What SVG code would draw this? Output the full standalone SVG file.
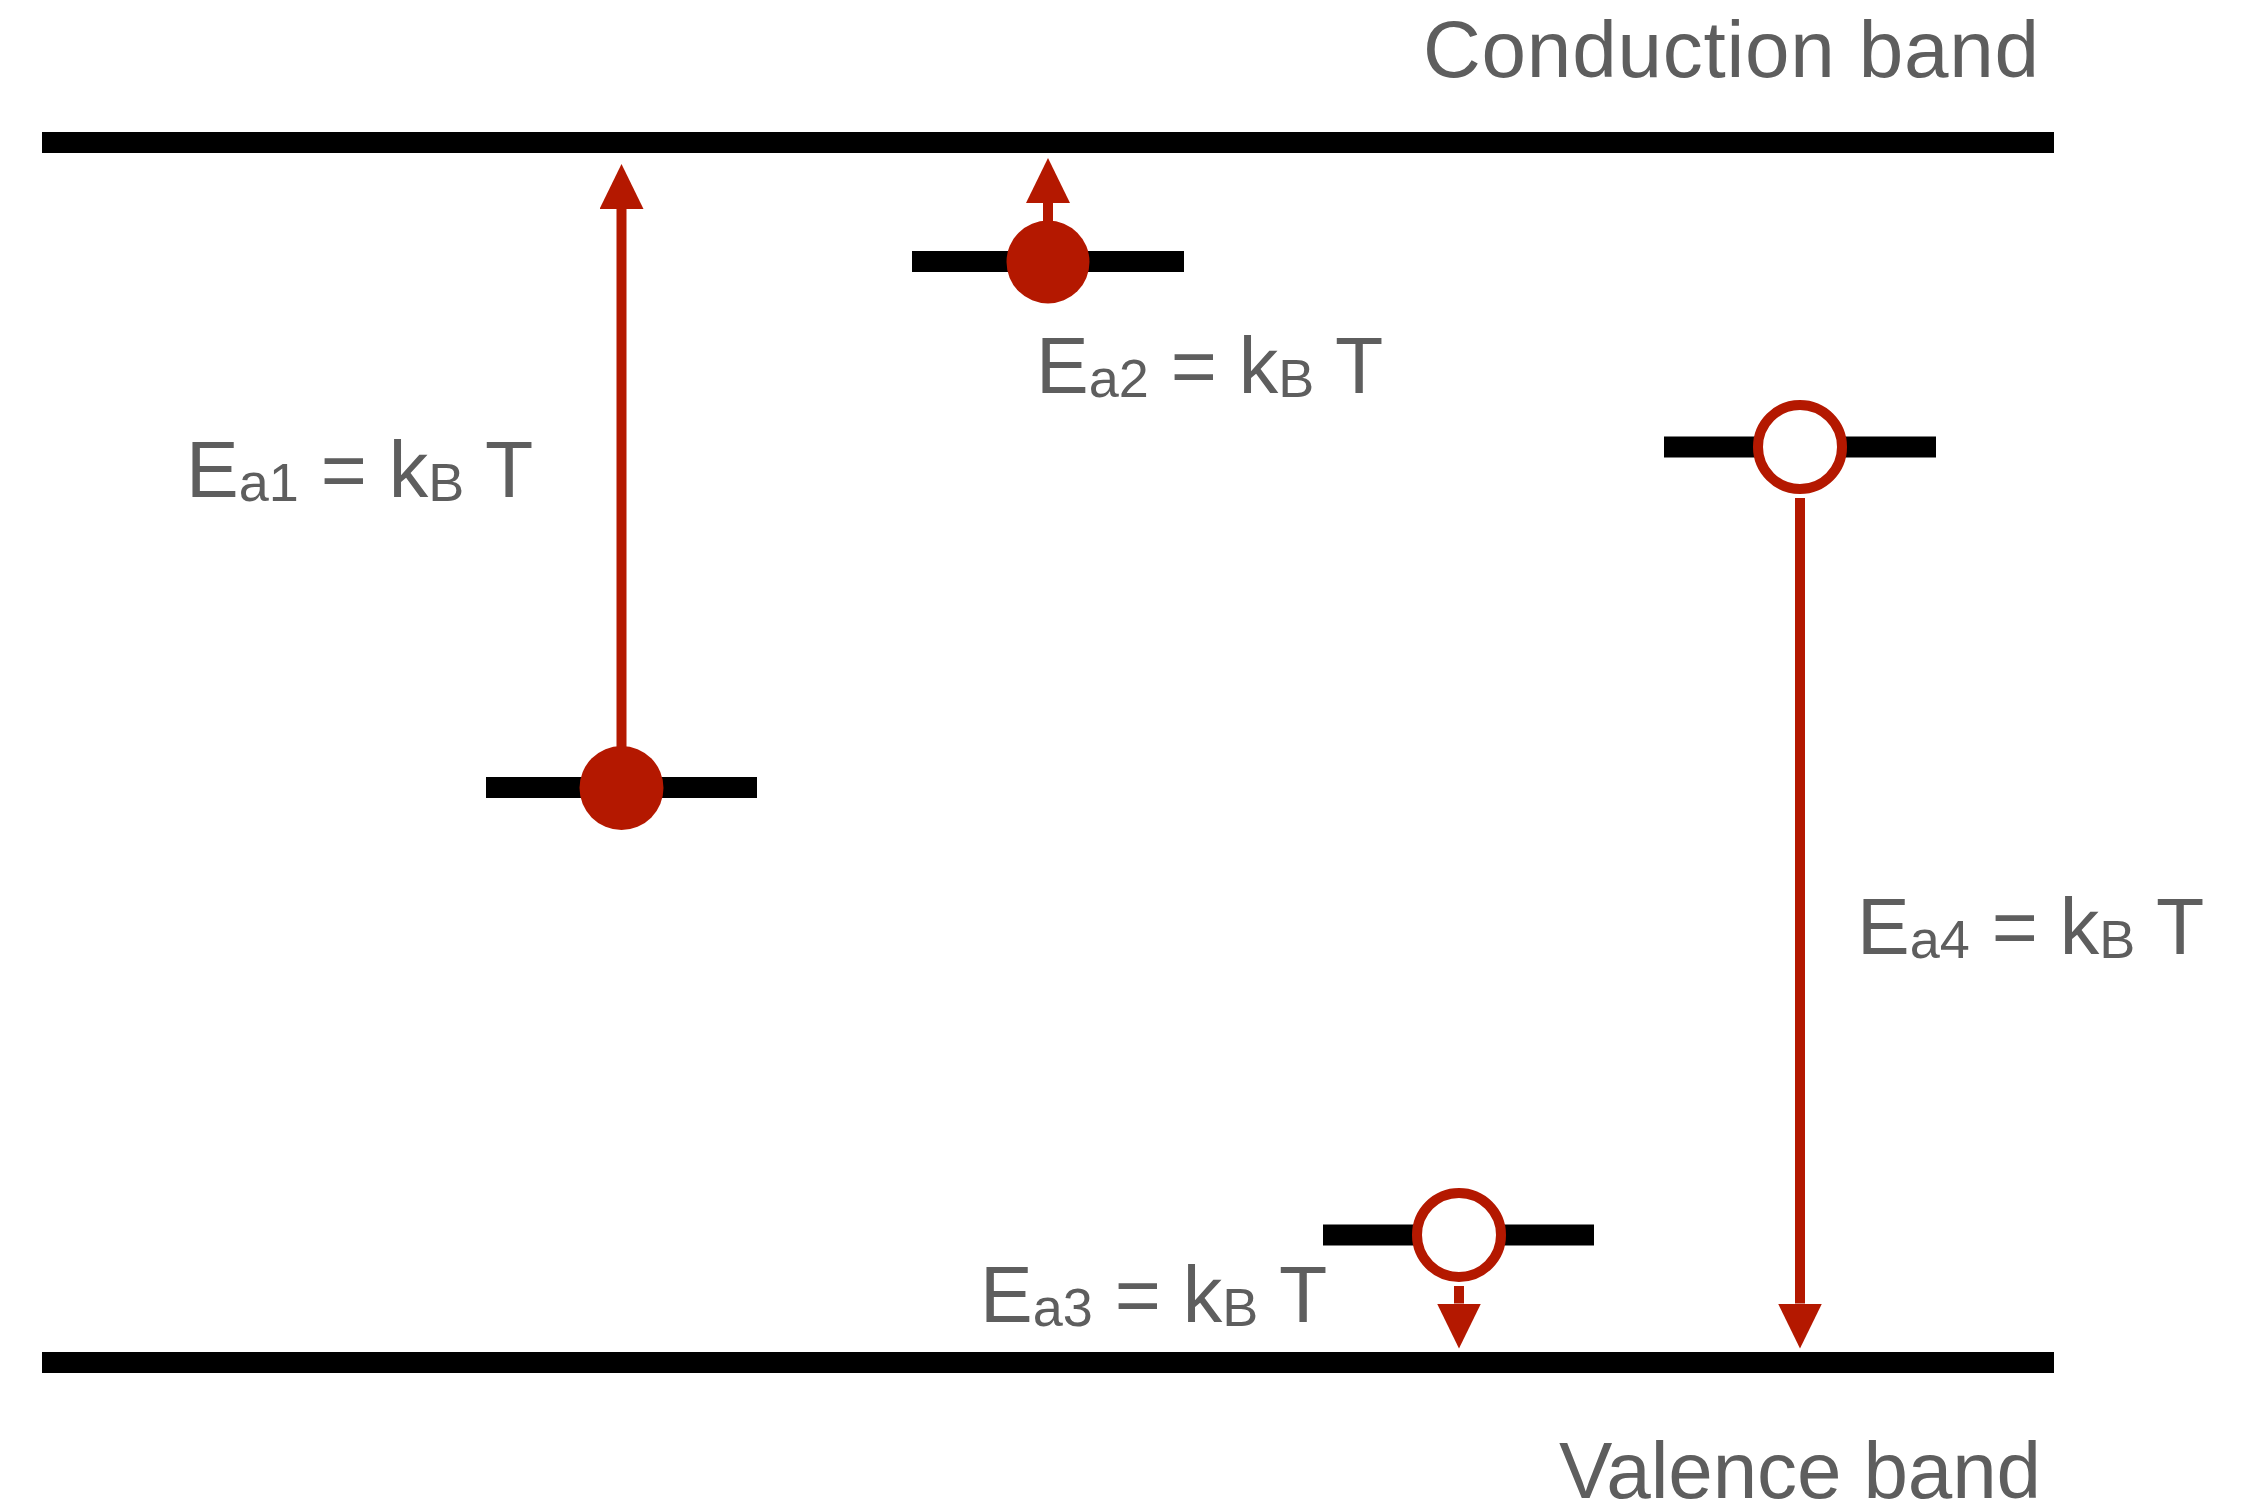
<svg xmlns="http://www.w3.org/2000/svg" width="2258" height="1504" viewBox="0 0 2258 1504">
  <style>
    .band { fill: #000000; }
    .level { fill: #000000; }
    .electron { fill: #b41800; }
    .hole { fill: #ffffff; stroke: #b41800; stroke-width: 10; }
    .arrow { stroke: #b41800; stroke-width: 10; fill: none; marker-end: url(#head); }
    .label { font-family: "Liberation Sans", Arial, Helvetica, sans-serif; fill: #5e5e5e; font-size: 80px; }
    .eq { font-size: 79px; }
    .sub { font-size: 54px; }
  </style>
  <defs>
    <marker id="head" markerUnits="userSpaceOnUse" markerWidth="45" markerHeight="44" refX="0" refY="22" orient="auto" viewBox="0 0 45 44">
      <path d="M0,0 L45,22 L0,44 Z" fill="#b41800"/>
    </marker>
  </defs>
  <rect width="2258" height="1504" fill="#ffffff"/>

  <g id="conduction-band">
    <rect class="band" x="42" y="132" width="2012" height="21"/>
    <text class="label" x="1423" y="77" textLength="616">Conduction band</text>
  </g>

  <g id="valence-band">
    <rect class="band" x="42" y="1352" width="2012" height="21"/>
    <text class="label" x="1559" y="1498" textLength="482">Valence band</text>
  </g>

  <g id="level-1">
    <rect class="level" x="486" y="777" width="271" height="21"/>
    <circle class="electron" cx="621.5" cy="788" r="42"/>
  </g>

  <g id="level-2">
    <rect class="level" x="912" y="251" width="272" height="21"/>
    <circle class="electron" cx="1048" cy="262" r="41.5"/>
  </g>

  <g id="level-3">
    <rect class="level" x="1323" y="1224.5" width="271" height="21"/>
    <circle class="hole" cx="1459" cy="1235" r="42"/>
  </g>

  <g id="level-4">
    <rect class="level" x="1664" y="436.5" width="272" height="21"/>
    <circle class="hole" cx="1800" cy="447" r="42"/>
  </g>

  <g id="connectors">
    <line class="arrow" x1="621.5" y1="760" x2="621.5" y2="209"/>
    <line class="arrow" x1="1048" y1="230" x2="1048" y2="203"/>
    <line class="arrow" x1="1459" y1="1286" x2="1459" y2="1303.5"/>
    <line class="arrow" x1="1800" y1="498" x2="1800" y2="1303.5"/>
  </g>

  <g id="label-ea1">
    <text class="label eq" x="186" y="497">E<tspan class="sub" dy="4">a1</tspan><tspan dy="-4"> = k</tspan><tspan class="sub" dy="4">B</tspan><tspan dy="-4"> T</tspan></text>
  </g>
  <g id="label-ea2">
    <text class="label eq" x="1036" y="393">E<tspan class="sub" dy="4">a2</tspan><tspan dy="-4"> = k</tspan><tspan class="sub" dy="4">B</tspan><tspan dy="-4"> T</tspan></text>
  </g>
  <g id="label-ea3">
    <text class="label eq" x="980" y="1322">E<tspan class="sub" dy="4">a3</tspan><tspan dy="-4"> = k</tspan><tspan class="sub" dy="4">B</tspan><tspan dy="-4"> T</tspan></text>
  </g>
  <g id="label-ea4">
    <text class="label eq" x="1857" y="954">E<tspan class="sub" dy="4">a4</tspan><tspan dy="-4"> = k</tspan><tspan class="sub" dy="4">B</tspan><tspan dy="-4"> T</tspan></text>
  </g>
</svg>
